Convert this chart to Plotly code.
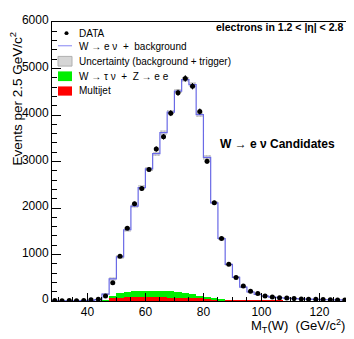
import plotly.graph_objects as go

# transverse mass bins, 2.5 GeV wide
BIN_W = 2.5
centers = [28.75, 31.25, 33.75, 36.25, 38.75, 41.25, 43.75, 46.25, 48.75, 51.25,
           53.75, 56.25, 58.75, 61.25, 63.75, 66.25, 68.75, 71.25, 73.75, 76.25,
           78.75, 81.25, 83.75, 86.25, 88.75, 91.25, 93.75, 96.25, 98.75, 101.25,
           103.75, 106.25, 108.75, 111.25, 113.75, 116.25, 118.75, 121.25, 123.75, 126.25,
           128.75]

data = [12, 8, 10, 8, 12, 25, 40, 110, 390, 960,
        1567, 2090, 2418, 2828, 3267, 3532, 4040, 4479, 4786, 4619,
        4075, 3003, 2111, 1344, 788, 508, 320, 209, 160, 105,
        85, 72, 62, 52, 45, 40, 35, 30, 28, 24,
        20]

mc_total = [5, 5, 5, 5, 8, 15, 30, 146, 474, 947,
            1532, 2042, 2439, 2842, 3170, 3622, 4061, 4514, 4759, 4654,
            4006, 3087, 2111, 1344, 788, 508, 299, 194, 140, 105,
            85, 70, 60, 52, 45, 40, 35, 31, 27, 24,
            21]

mc_unc = [3, 3, 3, 3, 3, 4, 6, 15, 45, 50,
          55, 50, 45, 50, 45, 50, 50, 50, 50, 50,
          50, 45, 35, 25, 15, 10, 8, 6, 5, 5,
          4, 4, 4, 4, 3, 3, 3, 3, 3, 3,
          3]

multijet = [0, 0, 0, 0, 0, 0, 0, 5, 60, 75,
            80, 80, 80, 80, 80, 78, 75, 70, 65, 60,
            55, 45, 35, 20, 15, 10, 10, 8, 5, 3,
            2, 2, 0, 0, 0, 0, 0, 0, 0, 0,
            0]

wtau_zee = [0, 0, 0, 0, 0, 0, 0, 10, 50, 90,
            110, 125, 130, 135, 135, 135, 130, 120, 100, 80,
            50, 25, 10, 5, 0, 0, 0, 0, 0, 0,
            0, 0, 0, 0, 0, 0, 0, 0, 0, 0,
            0]

FONT = "Liberation Sans, Arial, Helvetica, sans-serif"
# the page body adds an 8px margin, so the figure is drawn 8px in from the corner
OFF = 8
W, H = 354 - OFF, 339 - OFF
L, R, T, B = 52 - OFF, 7, 13 - OFF, 38
PW, PH = W - L - R, H - T - B


def px(x):  # page pixel -> paper x
    return (x - OFF - L) / PW


def py(y):  # page pixel -> paper y
    return (H - B - (y - OFF)) / PH


edges = [c - BIN_W / 2 for c in centers] + [centers[-1] + BIN_W / 2]
mc_step = mc_total + [mc_total[-1]]

fig = go.Figure()

# uncertainty band (background + trigger)
fig.add_trace(go.Bar(
    x=centers, y=[2 * u for u in mc_unc],
    base=[m - u for m, u in zip(mc_total, mc_unc)],
    width=BIN_W,
    marker=dict(color="#e2e2e2", line=dict(width=0),
                pattern=dict(shape=".", fgcolor="#a0a0a0", size=3, solidity=0.4)),
    showlegend=False, hoverinfo="skip",
))

# multijet (bottom of stack)
fig.add_trace(go.Bar(
    x=centers, y=multijet, width=BIN_W,
    marker=dict(color="#ff0000", line=dict(width=0)),
    showlegend=False,
))

# W -> tau nu + Z -> ee stacked on multijet
fig.add_trace(go.Bar(
    x=centers, y=wtau_zee, base=multijet, width=BIN_W,
    marker=dict(color="#00ee00", line=dict(width=0)),
    showlegend=False,
))

# W -> e nu + background histogram
fig.add_trace(go.Scatter(
    x=edges, y=mc_step, mode="lines", line_shape="hv",
    line=dict(color="#6a6ae6", width=1.2),
    showlegend=False,
))

# data points
fig.add_trace(go.Scatter(
    x=centers, y=data, mode="markers",
    marker=dict(color="black", size=5),
    error_y=dict(type="sqrt", color="black", thickness=1, width=0),
    error_x=dict(type="constant", value=0.7, color="black", thickness=1, width=0),
    showlegend=False,
))

axis_common = dict(
    showline=True, linecolor="black", linewidth=1, mirror=True,
    showgrid=False, zeroline=False, ticks="inside", tickcolor="black",
    tickfont=dict(family=FONT, size=12, color="black"),
    ticklabeloverflow="allow",
)
fig.update_xaxes(range=[27.8, 129.5], tick0=0, dtick=20, ticklen=8,
                 minor=dict(dtick=5, ticklen=4, ticks="inside", tickcolor="black"),
                 **axis_common)
fig.update_yaxes(range=[0, 6000], tick0=0, dtick=1000, ticklen=9, ticklabelshift=-2,
                 minor=dict(dtick=200, ticklen=5, ticks="inside", tickcolor="black"),
                 **axis_common)

ann = []
# axis titles
ann.append(dict(text="Events per 2.5 GeV/c<sup>2</sup>", x=px(16), y=py(92),
                xref="paper", yref="paper", xanchor="center", yanchor="middle",
                textangle=-90, showarrow=False,
                font=dict(family=FONT, size=13.5, color="black")))
ann.append(dict(text="M<sub>T</sub>(W)  (GeV/c<sup>2</sup>)", x=px(347), y=py(327),
                xref="paper", yref="paper", xanchor="right", yanchor="middle",
                showarrow=False,
                font=dict(family=FONT, size=13, color="black")))
# labels
ann.append(dict(text="<b>electrons in 1.2 &lt; |η| &lt; 2.8</b>", x=px(345), y=py(18),
                xref="paper", yref="paper", xanchor="right", yanchor="middle",
                showarrow=False,
                font=dict(family=FONT, size=10.5, color="black")))
ann.append(dict(text="<b>W → e ν Candidates</b>", x=px(277), y=py(139),
                xref="paper", yref="paper", xanchor="center", yanchor="middle",
                showarrow=False,
                font=dict(family=FONT, size=12, color="black")))

# hand-drawn legend
legend_rows = [
    ("DATA", 24.5),
    ("W → e ν  +  background", 38.5),
    ("Uncertainty (background + trigger)", 53.5),
    ("W → τ ν  +  Z → e e", 69),
    ("Multijet", 84),
]
for label, yy in legend_rows:
    ann.append(dict(text=label, x=px(77), y=py(yy), xref="paper", yref="paper",
                    xanchor="left", yanchor="middle", showarrow=False,
                    font=dict(family=FONT, size=10, color="black")))

shapes = [
    dict(type="circle", xref="paper", yref="paper", x0=px(64.5), x1=px(68.5),
         y0=py(26.5), y1=py(22.5), fillcolor="black", line=dict(width=0)),
    dict(type="line", xref="paper", yref="paper", x0=px(58), x1=px(72),
         y0=py(37.5), y1=py(37.5), line=dict(color="#9a9af5", width=1.2)),
    dict(type="rect", xref="paper", yref="paper", x0=px(58), x1=px(72),
         y0=py(58.5), y1=py(48.5), fillcolor="#d6d6d6", line=dict(color="#b0b0b0", width=1)),
    dict(type="rect", xref="paper", yref="paper", x0=px(58), x1=px(72),
         y0=py(74), y1=py(64), fillcolor="#00ee00", line=dict(width=0)),
    dict(type="rect", xref="paper", yref="paper", x0=px(58), x1=px(72),
         y0=py(89), y1=py(79.5), fillcolor="#ff0000", line=dict(width=0)),
]

fig.update_layout(
    width=W, height=H,
    margin=dict(l=L, r=R, t=T, b=B),
    paper_bgcolor="white", plot_bgcolor="white",
    barmode="overlay", bargap=0,
    annotations=ann, shapes=shapes,
    showlegend=False,
    font=dict(family=FONT, color="black"),
)

fig.write_html("out.html")
